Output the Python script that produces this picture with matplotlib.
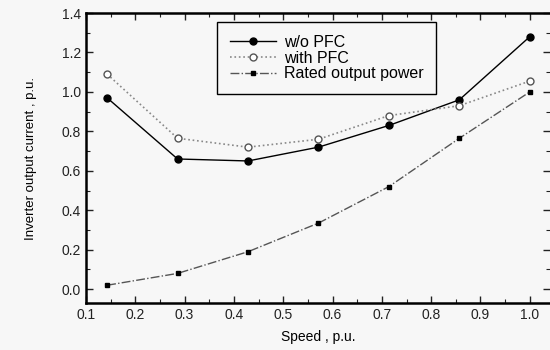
import numpy as np
import matplotlib.pyplot as plt
from matplotlib.ticker import MultipleLocator

speed = [1/7, 2/7, 3/7, 4/7, 5/7, 6/7, 1.0]
wo_pfc = [0.97, 0.66, 0.65, 0.72, 0.83, 0.96, 1.28]
with_pfc = [1.09, 0.765, 0.72, 0.76, 0.88, 0.93, 1.055]
rated_power = [0.02, 0.08, 0.19, 0.335, 0.52, 0.765, 1.0]

plt.rcParams['font.family'] = ['Liberation Sans', 'DejaVu Sans']

fig = plt.figure(figsize=(5.5, 3.5), dpi=100, facecolor='#f7f7f7')
ax = fig.add_axes([86/550, 1-303/350, 464/550, 290/350])
ax.set_facecolor('#f7f7f7')

ax.plot(speed, wo_pfc, '-', color='black', lw=1.0, marker='o', ms=5,
        mfc='black', mec='black', label='w/o PFC')
ax.plot(speed, with_pfc, ':', color='#888888', lw=1.2, marker='o', ms=5,
        mfc='white', mec='#555555', mew=1.0, label='with PFC')
ax.plot(speed, rated_power, '-.', color='#555555', lw=1.0, marker='s', ms=2.5,
        mfc='black', mec='black', label='Rated output power')

ax.set_xlim(0.1, 1.041)
ax.set_ylim(-0.07, 1.4)
ax.xaxis.set_minor_locator(MultipleLocator(0.05))
ax.yaxis.set_minor_locator(MultipleLocator(0.1))
ax.set_xticks(np.arange(0.1, 1.01, 0.1))
ax.set_xticklabels(['%.1f' % v for v in np.arange(0.1, 1.01, 0.1)])
ax.set_yticks(np.arange(0.0, 1.41, 0.2))
ax.set_yticklabels(['%.1f' % v for v in np.arange(0.0, 1.41, 0.2)])

ax.tick_params(which='both', direction='in', top=True, right=True,
               labelsize=10, colors='#222222')
ax.tick_params(which='major', length=5, width=1.0)
ax.tick_params(which='minor', length=3, width=0.8)
for s in ['left', 'bottom', 'top']:
    ax.spines[s].set_linewidth(1.8)
ax.spines['right'].set_visible(False)

ax.set_xlabel('Speed , p.u.', fontsize=10, labelpad=6)
ax.set_ylabel('Inverter output current , p.u.', fontsize=9.5, labelpad=18)

leg = ax.legend(loc='upper left', bbox_to_anchor=(131/464, 1-9/290),
                borderaxespad=0, fontsize=11.5, frameon=True, fancybox=False,
                edgecolor='black', facecolor='#f7f7f7', handlelength=2.9,
                handletextpad=0.5, labelspacing=0.05, borderpad=0.8)
leg.get_frame().set_linewidth(1.0)
leg.get_frame().set_alpha(1)

fig.savefig('out.png', dpi=100, facecolor=fig.get_facecolor())
